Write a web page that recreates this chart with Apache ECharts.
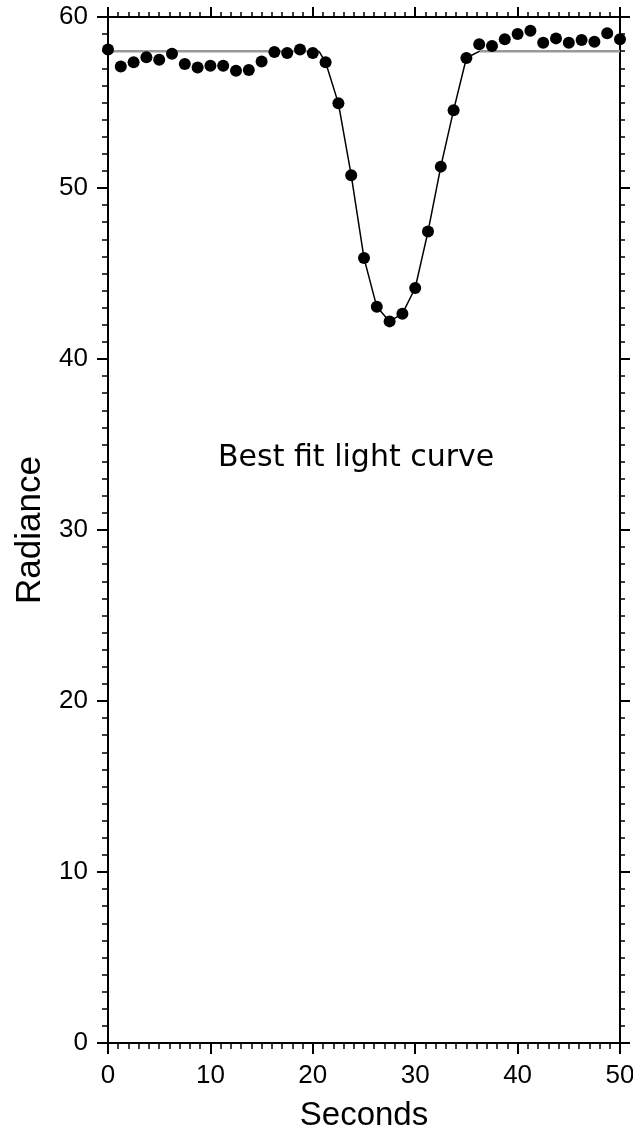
<!DOCTYPE html>
<html>
<head>
<meta charset="utf-8">
<script src="https://cdn.jsdelivr.net/npm/echarts@6/dist/echarts.min.js"></script>
<style>
  html, body { margin: 0; padding: 0; background: #ffffff; }
  #curve { width: 633px; height: 1129px; }
</style>
</head>
<body>
<div id="curve"></div>
<script>
// observed points, one every 1.25 s
const seconds = [0, 1.25, 2.5, 3.75, 5, 6.25, 7.5, 8.75, 10, 11.25, 12.5, 13.75, 15, 16.25, 17.5, 18.75, 20,
  21.25, 22.5, 23.75, 25, 26.25, 27.5, 28.75, 30, 31.25, 32.5, 33.75, 35, 36.25, 37.5, 38.75, 40, 41.25,
  42.5, 43.75, 45, 46.25, 47.5, 48.75, 50];
const radiance = [58.1, 57.1, 57.35, 57.65, 57.5, 57.85, 57.25, 57.05, 57.15, 57.15, 56.85, 56.9, 57.4,
  57.95, 57.9, 58.1, 57.9, 57.35, 54.95, 50.75, 45.9, 43.05, 42.2, 42.65, 44.15, 47.45, 51.25, 54.55,
  57.6, 58.4, 58.3, 58.7, 59.0, 59.2, 58.5, 58.75, 58.5, 58.65, 58.55, 59.05, 58.7];

// fitted model: flat baseline before and after, dip in between
const baseLevel = 58.0;
const baseLeftX = [0, 20.6];
const baseRightX = [36.3, 50];
const dipX = [20.6, 21.25, 22.5, 23.75, 25, 26.25, 27.5, 28.75, 30, 31.25, 32.5, 33.75, 35, 36.3];
const dipY = [58.0, 57.35, 54.95, 50.75, 45.9, 43.05, 42.2, 42.65, 44.15, 47.45, 51.25, 54.55, 57.6, 58.0];

const xTicks = [0, 10, 20, 30, 40, 50];
const yTicks = [0, 10, 20, 30, 40, 50, 60];

const font = 'Liberation Sans, Arial, sans-serif';

let chart = echarts.init(document.getElementById('curve'));

const axisCommon = {
  axisLine: { show: true, onZero: false, lineStyle: { color: '#000', width: 2 } },
  axisTick: { show: true, inside: false, length: 11, lineStyle: { color: '#000', width: 2 } },
  minorTick: { show: true, splitNumber: 10, length: 6, lineStyle: { color: '#000', width: 1.5 } },
  splitLine: { show: false }
};

chart.setOption({
  animation: false,
  backgroundColor: '#ffffff',
  grid: { left: 108, right: 13, top: 17, bottom: 86, outerBoundsMode: 'none', containLabel: false },
  xAxis: [
    Object.assign({}, axisCommon, {
      type: 'value', position: 'bottom', min: xTicks[0], max: xTicks[xTicks.length - 1], interval: 10,
      name: 'Seconds', nameLocation: 'middle', nameGap: 56,
      nameTextStyle: { fontFamily: font, fontSize: 33, color: '#000' },
      axisLabel: { margin: 20, fontFamily: font, fontSize: 26, color: '#000' }
    }),
    Object.assign({}, axisCommon, {
      type: 'value', position: 'top', min: xTicks[0], max: xTicks[xTicks.length - 1], interval: 10,
      axisTick: { show: true, inside: false, length: 10, lineStyle: { color: '#000', width: 2 } },
      minorTick: { show: true, splitNumber: 10, length: 5, lineStyle: { color: '#000', width: 1.5 } },
      axisLabel: { show: false }
    })
  ],
  yAxis: [
    Object.assign({}, axisCommon, {
      type: 'value', position: 'left', min: yTicks[0], max: yTicks[yTicks.length - 1], interval: 10,
      name: 'Radiance', nameLocation: 'middle', nameGap: 60,
      nameTextStyle: { fontFamily: font, fontSize: 35, color: '#000' },
      axisLabel: { margin: 20, fontFamily: font, fontSize: 26, color: '#000' }
    }),
    Object.assign({}, axisCommon, {
      type: 'value', position: 'right', min: yTicks[0], max: yTicks[yTicks.length - 1], interval: 10,
      axisTick: { show: true, inside: false, length: 10, lineStyle: { color: '#000', width: 2 } },
      minorTick: { show: true, splitNumber: 10, length: 5, lineStyle: { color: '#000', width: 1.5 } },
      axisLabel: { show: false }
    })
  ],
  graphic: [
    {
      type: 'text', left: 218, top: 443,
      style: { text: 'Best fit light curve', fontFamily: 'DejaVu Sans, sans-serif', fontSize: 30, fill: '#000' }
    }
  ],
  series: [
    {
      name: 'base left', type: 'line', showSymbol: false, z: 1,
      lineStyle: { color: '#999', width: 2.5 },
      data: baseLeftX.map(x => [x, baseLevel])
    },
    {
      name: 'base right', type: 'line', showSymbol: false, z: 1,
      lineStyle: { color: '#999', width: 2.5 },
      data: baseRightX.map(x => [x, baseLevel])
    },
    {
      name: 'dip', type: 'line', showSymbol: false, z: 2,
      lineStyle: { color: '#000', width: 1.5 },
      data: dipX.map((x, i) => [x, dipY[i]])
    },
    {
      name: 'observed', type: 'scatter', symbol: 'circle', symbolSize: 12, z: 3,
      itemStyle: { color: '#000', opacity: 1 },
      data: seconds.map((x, i) => [x, radiance[i]])
    }
  ]
});
</script>
</body>
</html>
